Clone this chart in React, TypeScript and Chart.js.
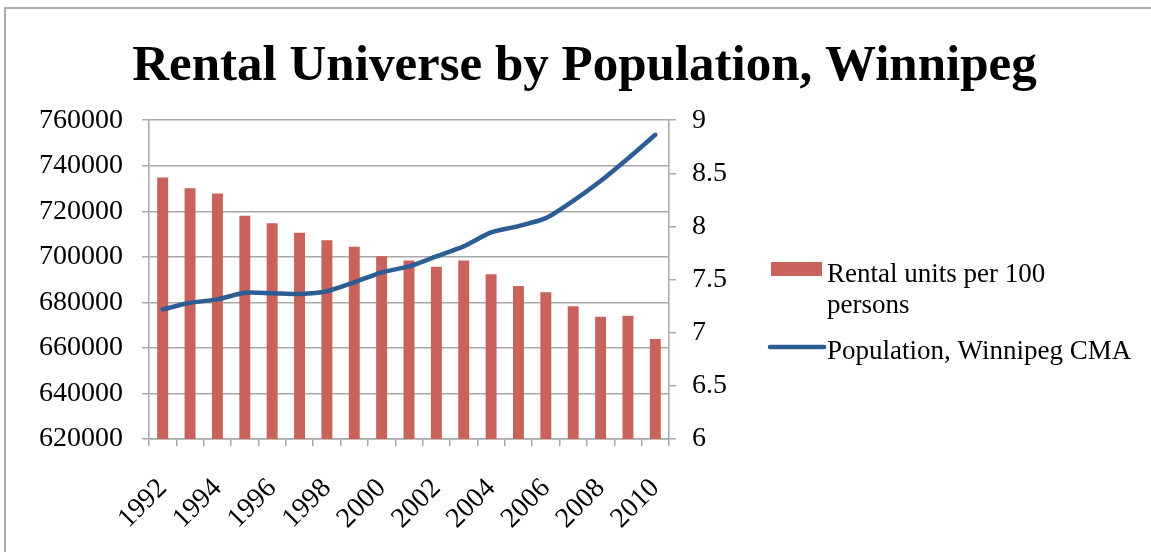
import React, { useEffect, useRef } from 'react';
import { Chart, registerables } from 'chart.js';

Chart.register(...registerables);

const years = ['1992', '1993', '1994', '1995', '1996', '1997', '1998', '1999', '2000', '2001', '2002', '2003', '2004', '2005', '2006', '2007', '2008', '2009', '2010'];
const rentalUnitsPer100 = [8.46, 8.36, 8.31, 8.1, 8.03, 7.94, 7.87, 7.81, 7.72, 7.68, 7.62, 7.68, 7.55, 7.44, 7.38, 7.25, 7.15, 7.16, 6.94];
const population = [676900, 679800, 681300, 684200, 684000, 683700, 684900, 688800, 693200, 695800, 700200, 704600, 710700, 713500, 717000, 724600, 733300, 743200, 753600];
const populationTicks = [620000, 640000, 660000, 680000, 700000, 720000, 740000, 760000];
const rentalTicks = [6, 6.5, 7, 7.5, 8, 8.5, 9];
const labelledYears = ['1992', '1994', '1996', '1998', '2000', '2002', '2004', '2006', '2008', '2010'];

const TITLE = 'Rental Universe by Population, Winnipeg';
const BAR_LABEL = 'Rental units per 100 persons';
const LINE_LABEL = 'Population, Winnipeg CMA';

const BAR_COLOR = '#c9625a';
const LINE_COLOR = '#2c5d93';
const GRID_COLOR = '#a8a8a8';
const FONT = 'Liberation Serif';

const W = 1151;
const H = 552;

function wrap(ctx: CanvasRenderingContext2D, text: string, maxW: number): string[] {
  const words = text.split(' ');
  const lines: string[] = [];
  let cur = '';
  for (const w of words) {
    const t = cur ? cur + ' ' + w : w;
    if (ctx.measureText(t).width > maxW && cur) {
      lines.push(cur);
      cur = w;
    } else cur = t;
  }
  if (cur) lines.push(cur);
  return lines;
}

const framePlugin = {
  id: 'frame',
  beforeDraw(chart: any) {
    const ctx = chart.ctx;
    ctx.save();
    ctx.fillStyle = '#ffffff';
    ctx.fillRect(0, 0, chart.width, chart.height);
    ctx.strokeStyle = '#ababab';
    ctx.lineWidth = 2;
    ctx.beginPath();
    ctx.moveTo(5, chart.height);
    ctx.lineTo(5, 8);
    ctx.lineTo(chart.width, 8);
    ctx.stroke();
    ctx.restore();
  },
};

const legendPlugin = {
  id: 'customLegend',
  afterDraw(chart: any) {
    const ctx = chart.ctx;
    const area = chart.chartArea;
    const x0 = area.right + 101;
    const textX = x0 + 57;
    ctx.save();
    ctx.font = `27px "${FONT}"`;
    ctx.fillStyle = '#000';
    ctx.textBaseline = 'alphabetic';
    ctx.textAlign = 'left';
    // bar entry
    const barDs = chart.data.datasets[1];
    ctx.fillStyle = barDs.backgroundColor;
    ctx.fillRect(x0 + 1, 262, 51, 14);
    ctx.fillStyle = '#000';
    const lines = wrap(ctx, barDs.label, 240);
    lines.forEach((l, i) => ctx.fillText(l, textX, 282 + i * 31));
    // line entry
    const lineDs = chart.data.datasets[0];
    ctx.strokeStyle = lineDs.borderColor;
    ctx.lineWidth = 4.5;
    ctx.lineCap = 'round';
    ctx.beginPath();
    ctx.moveTo(x0, 347);
    ctx.lineTo(x0 + 54, 347);
    ctx.stroke();
    ctx.fillText(lineDs.label, textX, 359);
    ctx.restore();
  },
};

export default function App() {
  const ref = useRef<HTMLCanvasElement | null>(null);

  useEffect(() => {
    if (!ref.current) return;
    const tickFont = { family: FONT, size: 28 };
    const chart = new Chart(ref.current, {
      type: 'bar',
      data: {
        labels: years,
        datasets: [
          {
            type: 'line',
            label: LINE_LABEL,
            data: population,
            yAxisID: 'y',
            borderColor: LINE_COLOR,
            backgroundColor: LINE_COLOR,
            borderWidth: 4.5,
            pointRadius: 0,
            tension: 0.25,
            borderCapStyle: 'round',
            order: 0,
          } as any,
          {
            type: 'bar',
            label: BAR_LABEL,
            data: rentalUnitsPer100,
            yAxisID: 'y1',
            backgroundColor: BAR_COLOR,
            barPercentage: 0.4,
            categoryPercentage: 1.0,
            order: 1,
          },
        ],
      },
      options: {
        responsive: false,
        animation: false,
        devicePixelRatio: 1,
        layout: { padding: { left: 18, right: 0, top: 0, bottom: 0 } },
        plugins: {
          legend: { display: false },
          tooltip: { enabled: false },
          title: {
            display: true,
            text: TITLE,
            color: '#000',
            font: { family: FONT, size: 51, weight: 'bold' },
            padding: { top: 36, bottom: 23 },
          },
        },
        scales: {
          x: {
            offset: true,
            grid: {
              offset: true,
              drawOnChartArea: false,
              drawTicks: true,
              tickLength: 7,
              color: GRID_COLOR,
              lineWidth: 1.5,
            },
            border: { display: true, color: GRID_COLOR, width: 1.5 },
            ticks: {
              autoSkip: false,
              minRotation: 45,
              maxRotation: 45,
              padding: 26,
              color: '#000',
              font: tickFont,
              callback: (_v: any, i: number) => (labelledYears.includes(years[i]) ? years[i] : ''),
            },
            afterFit: (s: any) => {
              s.height = 113;
            },
          },
          y: {
            position: 'left',
            min: populationTicks[0],
            max: populationTicks[populationTicks.length - 1],
            afterBuildTicks: (s: any) => {
              s.ticks = populationTicks.map((v) => ({ value: v }));
            },
            grid: { color: GRID_COLOR, lineWidth: 1.5, tickLength: 7 },
            border: { display: true, color: GRID_COLOR, width: 1.5 },
            ticks: {
              padding: 19,
              color: '#000',
              font: tickFont,
              callback: (v: any) => String(v),
            },
            afterFit: (s: any) => {
              s.width = 131;
            },
          },
          y1: {
            position: 'right',
            min: rentalTicks[0],
            max: rentalTicks[rentalTicks.length - 1],
            afterBuildTicks: (s: any) => {
              s.ticks = rentalTicks.map((v) => ({ value: v }));
            },
            grid: { drawOnChartArea: false, color: GRID_COLOR, lineWidth: 1.5, tickLength: 7 },
            border: { display: true, color: GRID_COLOR, width: 1.5 },
            ticks: {
              padding: 16,
              color: '#000',
              font: tickFont,
              callback: (v: any) => String(v),
            },
            afterFit: (s: any) => {
              s.width = 482;
            },
          },
        },
      },
      plugins: [framePlugin, legendPlugin],
    });
    return () => chart.destroy();
  }, []);

  return (
    <div style={{ position: 'fixed', left: 0, top: 0, width: W, height: H, background: '#fff' }}>
      <canvas ref={ref} width={W} height={H} style={{ display: 'block', width: W, height: H }} />
    </div>
  );
}
